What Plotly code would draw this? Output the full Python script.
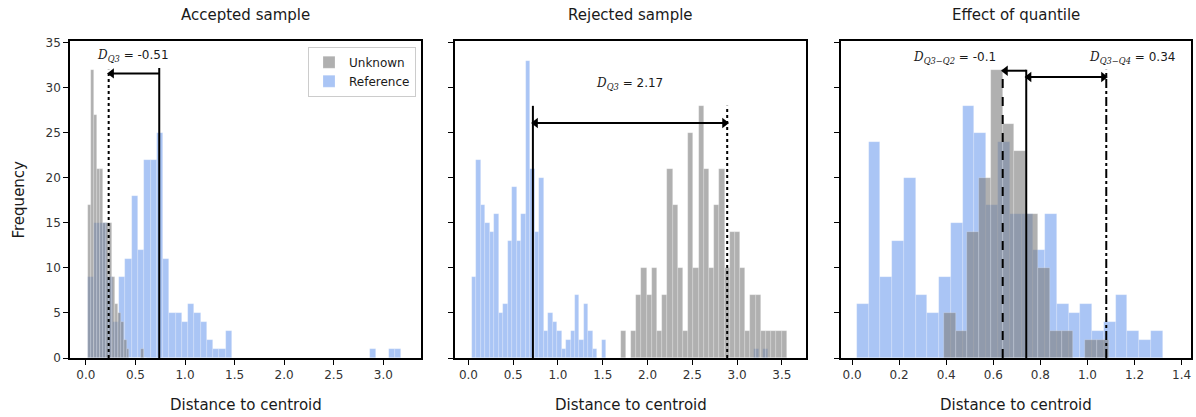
import plotly.graph_objects as go

# ---------------- data ----------------
# Panel 1: Accepted sample
p1_unknown_start = 0.02
p1_unknown_width = 0.03
p1_unknown_counts = [17, 32, 27, 21, 21, 15, 15, 15, 9, 6, 5, 4, 2, 1, 0, 0, 0, 0, 1, 0]

p1_ref_start = 0.02
p1_ref_width = 0.0632
p1_ref_counts = [9, 15, 15, 9, 4, 9, 11, 18, 12, 22, 22, 25, 11, 5, 5, 4, 6, 5, 4, 2,
                 1, 1, 3, 0, 0, 0, 0, 0, 0, 0, 0, 0, 0, 0, 0, 0, 0, 0, 0, 0,
                 0, 0, 0, 0, 0, 1, 0, 0, 1, 1]

# Panel 2: Rejected sample
p2_unknown_start = 1.70
p2_unknown_width = 0.058
p2_unknown_counts = [3, 0, 3, 7, 10, 7, 10, 3, 7, 21, 17, 10, 3, 25, 10, 28,
                     21, 10, 17, 21, 10, 14, 14, 10, 3, 7, 7, 3, 3, 3, 3, 3]

p2_ref_start = 0.04
p2_ref_width = 0.05
p2_ref_counts = [9, 22, 17, 15, 14, 16, 5, 6, 13, 19, 13, 16, 33, 21, 14, 20,
                 3, 5, 4, 3, 1, 2, 3, 7, 2, 6, 3, 1, 0, 2,
                 0, 0, 0, 0, 0, 0, 0, 0, 0, 0, 0, 0, 0, 0, 0, 0, 0, 0, 0, 0,
                 0, 0, 0, 0, 0, 0, 0, 0, 0, 0, 0, 0, 0, 1, 0, 1]

# Panel 3: Effect of quantile
p3_unknown_start = 0.39
p3_unknown_width = 0.05
p3_unknown_counts = [5, 3, 14, 20, 32, 26, 23, 16, 10, 3, 3, 0, 2, 2]

p3_ref_start = 0.02
p3_ref_width = 0.05
p3_ref_counts = [6, 24, 9, 13, 20, 7, 5, 9, 15, 28, 25, 17, 24, 16, 16, 12, 16,
                 6, 5, 6, 3, 4, 7, 3, 2, 3]

# quantile markers
p1_ref_q3, p1_unk_q3 = 0.74, 0.23
p2_ref_q3, p2_unk_q3 = 0.72, 2.89
p3_ref_q3, p3_unk_q2, p3_unk_q4 = 0.74, 0.64, 1.08

titles = ["Accepted sample", "Rejected sample", "Effect of quantile"]
x_ranges = [[-0.16, 3.38], [-0.15, 3.77], [-0.047, 1.44]]
x_dticks = [0.5, 0.5, 0.2]
y_range = [0, 35.2]

# ---------------- styling ----------------
GRAY = "rgba(128,128,128,0.62)"
BLUE = "rgba(100,149,237,0.55)"
EDGE = "rgba(255,255,255,0.35)"
FONT = "DejaVu Sans"
TXT = "#1a1a1a"

domains = [[70 / 1196, 421 / 1196], [455 / 1196, 806 / 1196], [841 / 1196, 1191 / 1196]]


def centers(start, width, n):
    return [start + width * (i + 0.5) for i in range(n)]


fig = go.Figure()

series = [
    (p1_unknown_start, p1_unknown_width, p1_unknown_counts, p1_ref_start, p1_ref_width, p1_ref_counts),
    (p2_unknown_start, p2_unknown_width, p2_unknown_counts, p2_ref_start, p2_ref_width, p2_ref_counts),
    (p3_unknown_start, p3_unknown_width, p3_unknown_counts, p3_ref_start, p3_ref_width, p3_ref_counts),
]

for i, (us, uw, uc, rs, rw, rc) in enumerate(series):
    xa = "x" if i == 0 else f"x{i + 1}"
    ya = "y" if i == 0 else f"y{i + 1}"
    fig.add_trace(go.Bar(
        x=centers(rs, rw, len(rc)), y=rc, width=rw,
        marker=dict(color=BLUE, line=dict(color=EDGE, width=0.6)),
        name="Reference", legendgroup="ref", legendrank=2,
        showlegend=(i == 0), xaxis=xa, yaxis=ya, hoverinfo="skip"))
    fig.add_trace(go.Bar(
        x=centers(us, uw, len(uc)), y=uc, width=uw,
        marker=dict(color=GRAY, line=dict(color=EDGE, width=0.6)),
        name="Unknown", legendgroup="unk", legendrank=1,
        showlegend=(i == 0), xaxis=xa, yaxis=ya, hoverinfo="skip"))

layout = dict(
    width=1196, height=417,
    margin=dict(l=0, r=0, t=41, b=59),
    paper_bgcolor="white", plot_bgcolor="white",
    barmode="overlay", bargap=0,
    font=dict(family=FONT, size=12, color=TXT),
    legend=dict(x=416 / 1196, y=0.982, xanchor="right", yanchor="top",
                bgcolor="rgba(255,255,255,0.8)", bordercolor="#cccccc", borderwidth=1,
                font=dict(size=12, color=TXT), traceorder="normal",
                itemwidth=30, tracegroupgap=0),
)

for i in range(3):
    xk = "xaxis" if i == 0 else f"xaxis{i + 1}"
    yk = "yaxis" if i == 0 else f"yaxis{i + 1}"
    ya = "y" if i == 0 else f"y{i + 1}"
    xa = "x" if i == 0 else f"x{i + 1}"
    layout[xk] = dict(domain=domains[i], range=x_ranges[i], anchor=ya,
                      dtick=x_dticks[i], tick0=0, tickformat=".1f",
                      showline=True, mirror=True, linecolor="black", linewidth=1.5,
                      ticks="outside", ticklen=5, tickwidth=1.3, tickcolor="black",
                      showgrid=False, zeroline=False,
                      tickfont=dict(size=12, color="#333333"))
    layout[yk] = dict(domain=[0, 1], range=y_range, anchor=xa,
                      dtick=5, tick0=0,
                      showline=True, mirror=True, linecolor="black", linewidth=1.5,
                      ticks="outside", ticklen=5, tickwidth=1.3, tickcolor="black",
                      showgrid=False, zeroline=False, showticklabels=(i == 0),
                      tickfont=dict(size=12, color="#333333"))

fig.update_layout(**layout)

# vertical quantile lines
def vline(xa, ya, x, top, dash):
    fig.add_shape(type="line", xref=xa, yref=ya, x0=x, x1=x, y0=0, y1=top,
                  line=dict(color="black", width=2, dash=dash))

vline("x", "y", p1_ref_q3, 32.2, "solid")
vline("x", "y", p1_unk_q3, 32.0, "dot")
vline("x2", "y2", p2_ref_q3, 28.0, "solid")
vline("x2", "y2", p2_unk_q3, 28.0, "dot")
vline("x3", "y3", p3_ref_q3, 32.0, "solid")
vline("x3", "y3", p3_unk_q2, 32.0, "dash")
vline("x3", "y3", p3_unk_q4, 32.0, "dashdot")

# arrows drawn as line traces with arrow-shaped markers at the heads
def arrow(xa, ya, x_from, x_to, y, both):
    fig.add_trace(go.Scatter(x=[x_from, x_to], y=[y, y], mode="lines",
                             line=dict(color="black", width=2),
                             xaxis=xa, yaxis=ya, showlegend=False, hoverinfo="skip"))
    hx, ang = [x_to], [-90 if x_to < x_from else 90]
    if both:
        hx.append(x_from)
        ang.append(90 if x_to < x_from else -90)
    fig.add_trace(go.Scatter(x=hx, y=[y] * len(hx), mode="markers",
                             marker=dict(symbol="triangle-up", size=9, color="black",
                                         angle=ang, line=dict(width=0)),
                             xaxis=xa, yaxis=ya, showlegend=False, hoverinfo="skip"))

arrow("x", "y", p1_ref_q3, p1_unk_q3 + 0.03, 31.6, False)
arrow("x2", "y2", p2_ref_q3 + 0.03, p2_unk_q3 - 0.03, 26.1, True)
arrow("x3", "y3", p3_ref_q3, p3_unk_q2 + 0.012, 31.9, False)
arrow("x3", "y3", p3_ref_q3 + 0.012, p3_unk_q4 - 0.012, 31.2, True)

SERIF = "<span style='font-family:DejaVu Serif'>"

def dlabel(xa, ya, x, y, sub, value):
    fig.add_annotation(x=x, y=y, xref=xa, yref=ya, showarrow=False,
                       text=f"{SERIF}<i>D</i><sub><i>{sub}</i></sub></span> = {value}",
                       font=dict(size=12, color=TXT), xanchor="center", yanchor="middle")

dlabel("x", "y", 0.48, 33.5, "Q3", f"{p1_unk_q3 - p1_ref_q3:.2f}")
dlabel("x2", "y2", 1.80, 30.4, "Q3", f"{p2_unk_q3 - p2_ref_q3:.2f}")
dlabel("x3", "y3", 0.437, 33.3, "Q3−Q2", f"{p3_unk_q2 - p3_ref_q3:.1f}")
dlabel("x3", "y3", 1.19, 33.3, "Q3−Q4", f"{p3_unk_q4 - p3_ref_q3:.2f}")

# titles and axis labels
for i in range(3):
    cx = (domains[i][0] + domains[i][1]) / 2
    fig.add_annotation(x=cx, y=1.082, xref="paper", yref="paper", text=titles[i],
                       showarrow=False, font=dict(size=15, color=TXT),
                       xanchor="center", yanchor="middle")
    fig.add_annotation(x=cx, y=-0.148, xref="paper", yref="paper", text="Distance to centroid",
                       showarrow=False, font=dict(size=15, color=TXT),
                       xanchor="center", yanchor="middle")

fig.add_annotation(x=18 / 1196, y=0.5, xref="paper", yref="paper", text="Frequency",
                   showarrow=False, textangle=-90, font=dict(size=15, color=TXT),
                   xanchor="center", yanchor="middle")

fig.write_html("out.html")
